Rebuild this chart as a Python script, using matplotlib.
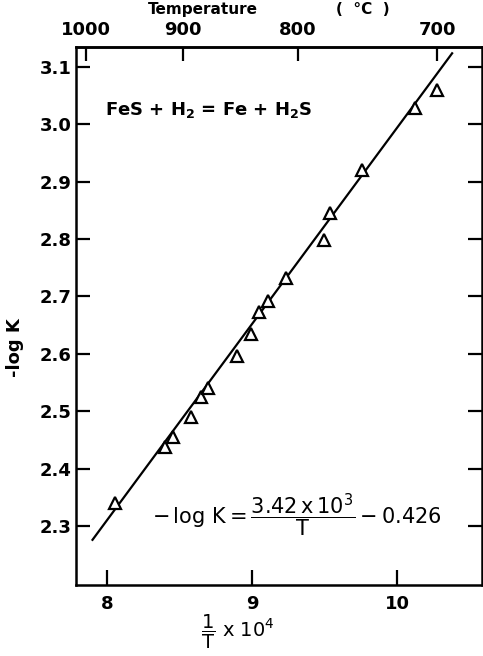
import matplotlib
import matplotlib.pyplot as plt
import numpy as np

matplotlib.use("Agg")

# data (x = 1/T * 1e4, y = -log K)
inv_t = [8.055, 8.400, 8.455, 8.579, 8.648, 8.697, 8.897, 8.993,
         9.048, 9.110, 9.234, 9.497, 9.538, 9.759, 10.124, 10.276]
neg_log_k = [2.340, 2.438, 2.455, 2.490, 2.525, 2.541, 2.596, 2.635,
             2.673, 2.692, 2.732, 2.798, 2.846, 2.921, 3.029, 3.060]

# fitted line: -log K = 3.42e3 / T - 0.426
fit_slope = 3.42e3
fit_intercept = -0.426
fit_range = [7.90, 10.38]

y_ticks = [2.3, 2.4, 2.5, 2.6, 2.7, 2.8, 2.9, 3.0, 3.1]
x_ticks = [8, 9, 10]
temp_ticks = [1000, 900, 800, 700]

plt.rcParams["font.family"] = "DejaVu Sans"
plt.rcParams["mathtext.fontset"] = "dejavusans"
plt.rcParams["mathtext.default"] = "regular"

fig = plt.figure(figsize=(4.83, 6.56), dpi=100)
ax = fig.add_axes([0.1573, 0.1082, 0.8406, 0.8202])

ax.plot(inv_t, neg_log_k, linestyle="none", marker="^", ms=8.5,
        mfc="white", mec="black", mew=1.6, zorder=3)

fx = np.array(fit_range)
fy = fit_slope * fx * 1e-4 + fit_intercept
ax.plot(fx, fy, color="black", lw=1.6, zorder=2)

ax.set_xlim(7.786, 10.586)
ax.set_ylim(2.197, 3.135)

ax.set_xticks(x_ticks)
ax.set_xticklabels([str(v) for v in x_ticks])
ax.set_yticks(y_ticks)
ax.set_yticklabels([f"{v:.1f}" for v in y_ticks])

for s in ax.spines.values():
    s.set_linewidth(1.8)

ax.tick_params(axis="y", direction="in", length=10, width=1.6, pad=3,
               labelsize=13, right=True)
ax.tick_params(axis="x", direction="in", length=11, width=1.6, pad=7,
               labelsize=13, top=False)
for lab in ax.get_xticklabels() + ax.get_yticklabels():
    lab.set_fontweight("bold")

sec = ax.secondary_xaxis(
    "top",
    functions=(lambda x: 1e4 / np.asarray(x, dtype=float) - 273.15,
               lambda c: 1e4 / (np.asarray(c, dtype=float) + 273.15)))
sec.set_xticks(temp_ticks)
sec.set_xticklabels([str(v) for v in temp_ticks])
sec.tick_params(direction="in", length=10, width=1.6, pad=6, labelsize=13)
sec.spines["top"].set_linewidth(1.8)
for lab in sec.get_xticklabels():
    lab.set_fontweight("bold")

fig.text(0.42, 0.985, "Temperature", ha="center", va="center",
         fontsize=11, fontweight="bold")
fig.text(0.752, 0.985, "(  °C  )", ha="center", va="center",
         fontsize=11, fontweight="bold")

ax.text(0.071, 0.883, r"FeS + H$_\mathbf{2}$ = Fe + H$_\mathbf{2}$S",
        transform=ax.transAxes, fontsize=13, fontweight="bold",
        ha="left", va="center")
ax.text(0.187, 0.13,
        r"$-\,\log\,K = \dfrac{3.42\,x\,10^{3}}{T} - 0.426$",
        transform=ax.transAxes, fontsize=15, ha="left", va="center")

fig.text(0.493, 0.037, r"$\dfrac{1}{T}$ x 10$^4$", ha="center", va="center",
         fontsize=14)
fig.text(0.031, 0.47, "-log K", rotation=90, ha="center", va="center",
         fontsize=13, fontweight="bold")

fig.savefig("out.png", dpi=100)
plt.close(fig)
